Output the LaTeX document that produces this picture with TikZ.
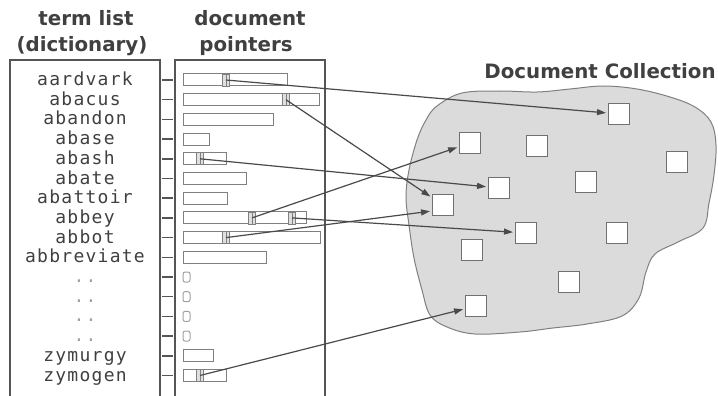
\documentclass[tikz,border=0pt]{standalone}
\usepackage{fontspec}
\usetikzlibrary{arrows.meta,calc}
\newfontfamily\termfont[LetterSpace=7]{DejaVu Sans Mono}
\newfontfamily\headfont{DejaVu Sans}
\definecolor{ink}{HTML}{404040}
\definecolor{framegray}{HTML}{555555}
\definecolor{bargray}{HTML}{808080}
\definecolor{arrowgray}{HTML}{4A4A4A}
\definecolor{cloudfill}{HTML}{DBDBDB}
\definecolor{cloudedge}{HTML}{808080}
\definecolor{docedge}{HTML}{707070}
\definecolor{dotgray}{HTML}{A0A0A0}

\begin{document}
\begin{tikzpicture}[x=1pt,y=-1pt,
  term/.style={font=\termfont\fontsize{18}{18}\selectfont, text=ink, anchor=base, inner sep=0pt},
  ellip/.style={font=\termfont\fontsize{18}{18}\selectfont, text=dotgray, anchor=base, inner sep=0pt},
  head/.style={font=\headfont\bfseries\fontsize{19.8}{20}\selectfont, text=ink, anchor=base, inner sep=0pt},
  frame/.style={draw=framegray, line width=1.5pt},
  tick/.style={draw=framegray, line width=1.5pt},
  bar/.style={draw=bargray, line width=1pt, fill=white},
  stub/.style={draw=dotgray, line width=1pt, rounded corners=2pt},
  ptr/.style={draw=bargray, fill=gray!25, line width=0.8pt, minimum width=7pt,
    minimum height=12pt, inner sep=0pt,
    path picture={\draw[bargray, line width=0.8pt] (path picture bounding box.north) -- (path picture bounding box.south);}},
  doc/.style={draw=docedge, fill=white, line width=1pt, minimum size=21pt, inner sep=0pt},
  link/.style={draw=arrowgray, line width=1.2pt, shorten >=2pt, -{Triangle[length=9pt,width=6pt]}}
]
\useasboundingbox (0,0) rectangle (718,396);

% column headings and collection title
\node[head] (hterm)  at (86,26)  {term list};
\node[head] (hdict)  at (82,52)  {(dictionary)};
\node[head] (hdoc)   at (250,26) {document};
\node[head] (hptr)   at (246,52) {pointers};
\node[head] (hcoll)  at (600,79) {Document Collection};

% the two open-bottomed columns
\draw[frame] (10,400) -- (10,60) -- (160,60) -- (160,400);
\draw[frame] (175,400) -- (175,60) -- (325,60) -- (325,400);

% dictionary terms with their posting bars
\foreach \name/\len [count=\i from 0] in {aardvark/287,abacus/319,abandon/273,abase/209,abash/226,abate/246,abattoir/227,abbey/306,abbot/320,abbreviate/266}{
  \node[term] (term\i) at (85,{80+19.7*\i+5.5}) {\name};
  \draw[tick] (162,{80+19.7*\i}) -- (173,{80+19.7*\i});
  \draw[bar] (183,{80+19.7*\i-6}) rectangle (\len,{80+19.7*\i+6});
}
\foreach \i in {10,...,13}{
  \node[ellip] (gap\i) at (85,{80+19.7*\i+5.5}) {..};
  \draw[tick] (162,{80+19.7*\i}) -- (173,{80+19.7*\i});
  \draw[stub] (183,{80+19.7*\i-5}) rectangle (190,{80+19.7*\i+5});
}
\foreach \name/\len [count=\i from 14] in {zymurgy/213,zymogen/226}{
  \node[term] (term\i) at (85,{80+19.7*\i+5.5}) {\name};
  \draw[tick] (162,{80+19.7*\i}) -- (173,{80+19.7*\i});
  \draw[bar] (183,{80+19.7*\i-6}) rectangle (\len,{80+19.7*\i+6});
}

% individual document pointers inside the bars
\node[ptr] (pA)  at (226,80)    {};
\node[ptr] (pB)  at (286,99.7)  {};
\node[ptr] (pC)  at (200,158.8) {};
\node[ptr] (pD1) at (252,217.9) {};
\node[ptr] (pD2) at (292,217.9) {};
\node[ptr] (pE)  at (226,237.6) {};
\node[ptr] (pF)  at (200,375.5) {};

% the document collection
\draw[draw=cloudedge, fill=cloudfill, line width=1pt]
  plot[smooth cycle, tension=0.6] coordinates {
    (437,106) (462,93) (500,91) (537,92) (570,89) (603,86) (637,89) (670,97)
    (695,107) (711,122) (716,145) (714,175) (709,203) (703,228) (678,242)
    (655,254) (646,272) (639,298) (622,316) (587,324) (553,328) (520,332)
    (475,334) (447,327) (430,315) (422,290) (414,258) (409,225) (406,197)
    (409,170) (417,140) (426,120)};

\node[doc] (d1)  at (619,114) {};
\node[doc] (d2)  at (470,143) {};
\node[doc] (d3)  at (537,146) {};
\node[doc] (d4)  at (677,162) {};
\node[doc] (d5)  at (586,182) {};
\node[doc] (d6)  at (499,188) {};
\node[doc] (d7)  at (526,233) {};
\node[doc] (d8)  at (617,233) {};
\node[doc] (d9)  at (472,250) {};
\node[doc] (d10) at (569,282) {};
\node[doc] (d11) at (476,306) {};
\node[doc] (d12) at (443,205) {};

% pointers into the collection
\draw[link] (pA.center)  -- (d1);
\draw[link] (pB.center)  -- (d12);
\draw[link] (pC.center)  -- (d6);
\draw[link] (pD1.center) -- (d2);
\draw[link] (pD2.center) -- (d7);
\draw[link] (pE.center)  -- ($(d12.west)+(0,6)$);
\draw[link] (pF.center)  -- (d11);
\end{tikzpicture}
\end{document}
